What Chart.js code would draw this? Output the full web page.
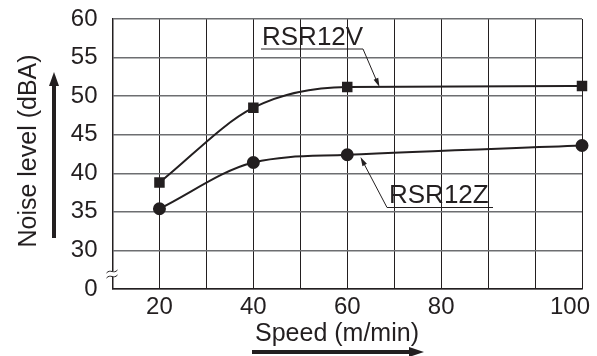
<!DOCTYPE html>
<html>
<head>
<meta charset="utf-8">
<script src="https://cdn.jsdelivr.net/npm/chart.js@4.4.0/dist/chart.umd.min.js"></script>
<style>
  body { margin: 0; background: #fff; }
  #chart { display: block; }
</style>
</head>
<body>
<canvas id="chart" width="597" height="356"></canvas>
<script>
// x positions follow the grid: one label per vertical grid line
const xLabels = ['', '20', '', '40', '', '60', '', '80', '', '', '100'];
const rsr12v = [null, 38.8, null, 48.5, null, 51.2, null, null, null, null, 51.3];
const rsr12z = [null, 35.4, null, 41.4, null, 42.4, null, null, null, null, 43.6];
const yMin = 25;   // shown as "0" below the axis break
const yMax = 60;

const ink = '#231f20';
const font = '"Liberation Sans", Arial, sans-serif';

function arrowHead(ctx, x1, y1, x2, y2, len, half) {
    const a = Math.atan2(y2 - y1, x2 - x1);
    ctx.beginPath();
    ctx.moveTo(x2, y2);
    ctx.lineTo(x2 - len * Math.cos(a) + half * Math.sin(a), y2 - len * Math.sin(a) - half * Math.cos(a));
    ctx.lineTo(x2 - len * Math.cos(a) - half * Math.sin(a), y2 - len * Math.sin(a) + half * Math.cos(a));
    ctx.closePath();
    ctx.fill();
}

const decorations = {
    id: 'decorations',
    afterDraw(chart) {
        const ctx = chart.ctx;
        const area = chart.chartArea;
        ctx.save();
        ctx.fillStyle = ink;
        ctx.strokeStyle = ink;

        // axis titles
        ctx.font = '25px ' + font;
        ctx.textAlign = 'center';
        ctx.textBaseline = 'middle';
        ctx.save();
        ctx.translate(29, 151);
        ctx.rotate(-Math.PI / 2);
        ctx.fillText('Noise level (dBA)', 0, 0);
        ctx.restore();
        ctx.fillText('Speed (m/min)', 337, 334);

        // thick arrows next to the titles
        ctx.lineWidth = 4;
        ctx.beginPath();
        ctx.moveTo(54, 238);
        ctx.lineTo(54, 84);
        ctx.stroke();
        arrowHead(ctx, 54, 238, 54, 72, 14, 5);
        ctx.beginPath();
        ctx.moveTo(252, 352);
        ctx.lineTo(410, 352);
        ctx.stroke();
        arrowHead(ctx, 252, 352, 424, 352, 15, 5);

        // axis break mark
        const yb = 274;
        ctx.fillStyle = '#fff';
        ctx.fillRect(area.left - 2, yb - 3, 4, 6);
        ctx.fillStyle = ink;
        ctx.lineWidth = 1;
        [-2.5, 2.5].forEach(d => {
            ctx.beginPath();
            ctx.moveTo(area.left - 6, yb + d + 1.5);
            ctx.bezierCurveTo(area.left - 2, yb + d - 3, area.left + 1, yb + d + 3, area.left + 5, yb + d - 1.5);
            ctx.stroke();
        });

        // series labels with leader lines
        ctx.font = '26px ' + font;
        ctx.textAlign = 'left';
        ctx.textBaseline = 'alphabetic';
        ctx.fillText('RSR12V', 262, 45);
        ctx.fillText('RSR12Z', 389, 203);
        ctx.lineWidth = 1;
        ctx.beginPath();
        ctx.moveTo(261, 49);
        ctx.lineTo(363, 49);
        ctx.lineTo(378, 84);
        ctx.stroke();
        arrowHead(ctx, 363, 49, 379.5, 87, 9, 2.5);
        ctx.beginPath();
        ctx.moveTo(493, 207.5);
        ctx.lineTo(387, 207.5);
        ctx.lineTo(362, 160);
        ctx.stroke();
        arrowHead(ctx, 387, 207.5, 360.5, 157, 9, 2.5);

        ctx.restore();
    }
};

new Chart(document.getElementById('chart').getContext('2d'), {
    type: 'line',
    data: {
        labels: xLabels,
        datasets: [{
            label: 'RSR12V',
            data: rsr12v,
            borderColor: ink,
            backgroundColor: ink,
            borderWidth: 2,
            pointStyle: 'rect',
            pointRadius: 6,
            cubicInterpolationMode: 'monotone',
            spanGaps: true,
            clip: false
        }, {
            label: 'RSR12Z',
            data: rsr12z,
            borderColor: ink,
            backgroundColor: ink,
            borderWidth: 2,
            pointStyle: 'circle',
            pointRadius: 5.5,
            cubicInterpolationMode: 'monotone',
            spanGaps: true,
            clip: false
        }]
    },
    options: {
        responsive: false,
        animation: false,
        layout: { padding: { left: 0, top: 19, right: 15, bottom: 0 } },
        plugins: {
            legend: { display: false },
            tooltip: { enabled: false }
        },
        scales: {
            x: {
                offset: false,
                afterFit: (scale) => {
                    scale.height = 67;
                    scale.paddingLeft = 0;
                    scale.paddingRight = 0;
                },
                grid: { color: ink, lineWidth: 1, drawTicks: false },
                border: { color: ink, width: 1.5 },
                ticks: {
                    color: ink,
                    font: { family: font, size: 24 },
                    padding: 4,
                    maxRotation: 0,
                    autoSkip: false,
                    // last label sits left of the edge line, as in the original
                    callback: (v, i) => i === xLabels.length - 1 ? xLabels[i] + '\u2003' : xLabels[i]
                }
            },
            y: {
                min: yMin,
                max: yMax,
                afterFit: (scale) => {
                    scale.width = 112.5;
                    scale.paddingTop = 0;
                    scale.paddingBottom = 0;
                },
                grid: { color: '#6d6e71', lineWidth: 1.5, drawTicks: false },
                border: { color: ink, width: 1.5 },
                ticks: {
                    stepSize: 5,
                    color: ink,
                    font: { family: font, size: 24 },
                    padding: 15,
                    callback: (v) => v === yMin ? '0' : v
                }
            }
        }
    },
    plugins: [decorations]
});
</script>
</body>
</html>
